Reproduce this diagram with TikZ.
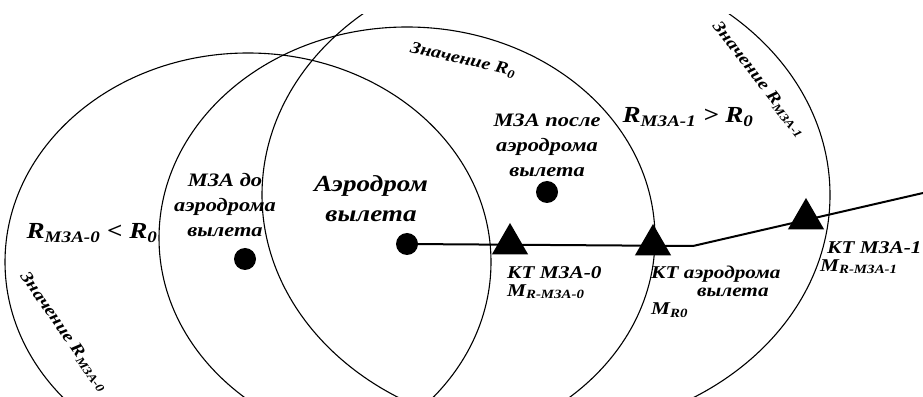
\documentclass[tikz,border=0pt]{standalone}
\usepackage{fontspec}
\newfontfamily\schemefont{Liberation Serif}[FakeStretch=1.18]
\usetikzlibrary{shapes.geometric}

\begin{document}
\begin{tikzpicture}[x=1pt,y=1pt]
\tikzstyle{zone}=[line width=1.1pt]
\tikzstyle{dot}=[circle,fill,inner sep=0pt,minimum size=22pt]
\tikzstyle{ktmark}=[regular polygon,regular polygon sides=3,fill,inner sep=0pt,minimum size=42pt]
\tikzstyle{txt}=[align=center,inner sep=0pt,font=\schemefont\bfseries\itshape\fontsize{19}{25}\selectfont]
\tikzstyle{bigtxt}=[txt,font=\schemefont\bfseries\itshape\fontsize{23}{30}\selectfont]
\tikzstyle{kttxt}=[txt,align=left,anchor=north west,font=\schemefont\bfseries\itshape\fontsize{18}{18}\selectfont]
\tikzstyle{arctxt}=[txt,font=\schemefont\bfseries\itshape\fontsize{17}{18}\selectfont]

\useasboundingbox (0,0) rectangle (923,396);
\begin{scope}
\clip (0,0) rectangle (923,381);
% zones
\draw[zone] (248,134) ellipse [x radius=243pt,y radius=209pt];
\draw[zone] (407,158) ellipse [x radius=248pt,y radius=211pt];
\draw[zone] (546,201) ellipse [x radius=284pt,y radius=237pt];
\end{scope}

% aerodromes
\node[dot] (dA) at (245,137) {};
\node[dot] (dB) at (407,152) {};
\node[dot] (dC) at (547,204) {};

% control points
\node[ktmark] (kt0) at (510,152) {};
\node[ktmark] (ktR) at (653,151) {};
\node[ktmark] (kt1) at (806,177) {};

\coordinate (bend) at (693,150);
\coordinate (exit) at (923,203);
\draw[line width=2pt] (dB.center) -- (bend) -- (exit);

% labels
\node[bigtxt] (aero) at (371,197) {Аэродром\\вылета};
\node[txt] (mzaDo) at (225,191) {МЗА до\\аэродрома\\вылета};
\node[txt] (mzaPosle) at (547,251) {МЗА после\\аэродрома\\вылета};
\node[bigtxt] (rLess) at (92,163) {R\textsubscript{МЗА-0} < R\textsubscript{0}};
\node[bigtxt] (rMore) at (688,279) {R\textsubscript{МЗА-1} > R\textsubscript{0}};
\node[arctxt,rotate=-13] (valR0) at (463,336) {Значение R\textsubscript{0}};
\node[arctxt,rotate=-52] (valR1) at (759,316) {Значение R\textsubscript{МЗА-1}};
\node[arctxt,rotate=-55] (valR00) at (64,64) {Значение R\textsubscript{МЗА-0}};
\node[kttxt] (lblKt0) at (507,130) {КТ МЗА-0\\M\textsubscript{R-МЗА-0}};
\node[kttxt] (lblKtR) at (651,130) {КТ аэродрома\\\hspace*{46pt}вылета\\M\textsubscript{R0}};
\node[kttxt] (lblKt1) at (820,155) {\hspace*{7pt}КТ МЗА-1\\M\textsubscript{R-МЗА-1}};
\end{tikzpicture}
\end{document}
